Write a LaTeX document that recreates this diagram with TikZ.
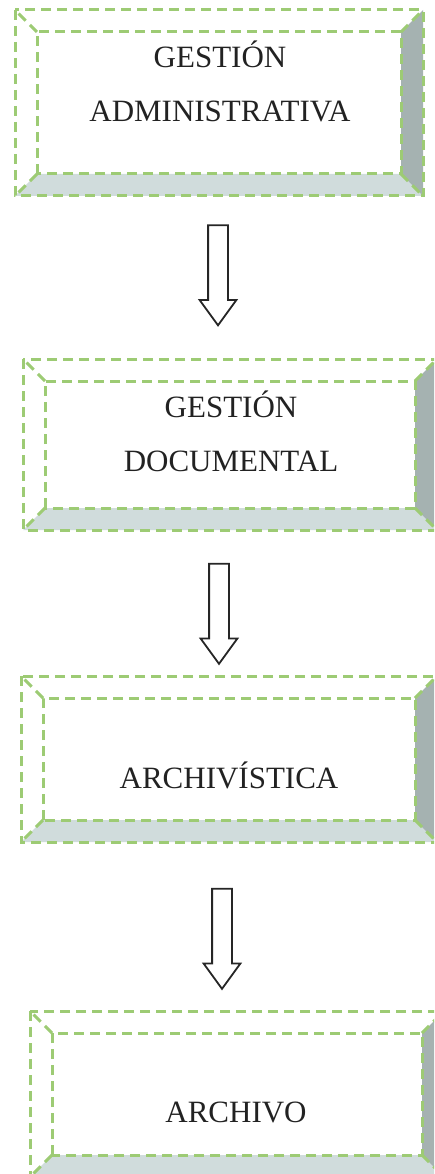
\documentclass[tikz,border=0pt]{standalone}
\usepackage{fontspec}
\setmainfont{Liberation Serif}
\usetikzlibrary{shapes.arrows}
\definecolor{bevgreen}{HTML}{9DCB74}
\definecolor{bevlow}{HTML}{D0DCDC}
\definecolor{bevside}{HTML}{A5B2B1}
\definecolor{txtgray}{HTML}{222222}
\begin{document}
\begin{tikzpicture}[x=1pt,y=1pt,
  frame/.style={inner sep=0,outer sep=0},
  bevel/.style={draw=bevgreen,line width=3pt,dash pattern=on 10pt off 6pt},
  lbl/.style={font=\fontsize{31}{54}\selectfont,text=txtgray,align=center},
  down/.style={single arrow,draw=black!85,line width=1.8pt,fill=white,rotate=-90,minimum height=100pt,inner sep=9pt,single arrow head extend=8.5pt,single arrow tip angle=72}]
\clip (0,0) rectangle (434,-1174);
\node[frame,minimum width=364pt,minimum height=142pt](adm)at(219,-103){};
\node[frame,minimum width=370pt,minimum height=127pt](doc)at(230,-444.5){};
\node[frame,minimum width=372pt,minimum height=122pt](arc)at(229,-759){};
\node[frame,minimum width=370pt,minimum height=122pt](arv)at(237,-1094){};
\foreach \n in {adm,doc,arc,arv}{
  \fill[bevlow](\n.south west)--(\n.south east)--++(22,-22)--([shift={(-22,-22)}]\n.south west)--cycle;
  \fill[bevside](\n.north east)--++(22,22)--([shift={(22,-22)}]\n.south east)--(\n.south east)--cycle;
  \draw[bevel]([shift={(-22,22)}]\n.north west)rectangle([shift={(22,-22)}]\n.south east);
  \draw[bevel](\n.south west)rectangle(\n.north east);
  \draw[bevel](\n.north west)--++(-22,22)(\n.north east)--++(22,22)(\n.south west)--++(-22,-22)(\n.south east)--++(22,-22);
}
\node[lbl](admt)at(220,-81){GESTIÓN\\ADMINISTRATIVA};
\node[lbl](doct)at(231,-431){GESTIÓN\\DOCUMENTAL};
\node[lbl,anchor=base](arct)at(229,-788){ARCHIVÍSTICA};
\node[lbl,anchor=base](arvt)at(236,-1122){ARCHIVO};
\node[down](a1)at(218,-268.5){};
\node[down](a2)at(219,-607){};
\node[down](a3)at(222,-932){};
\end{tikzpicture}
\end{document}
